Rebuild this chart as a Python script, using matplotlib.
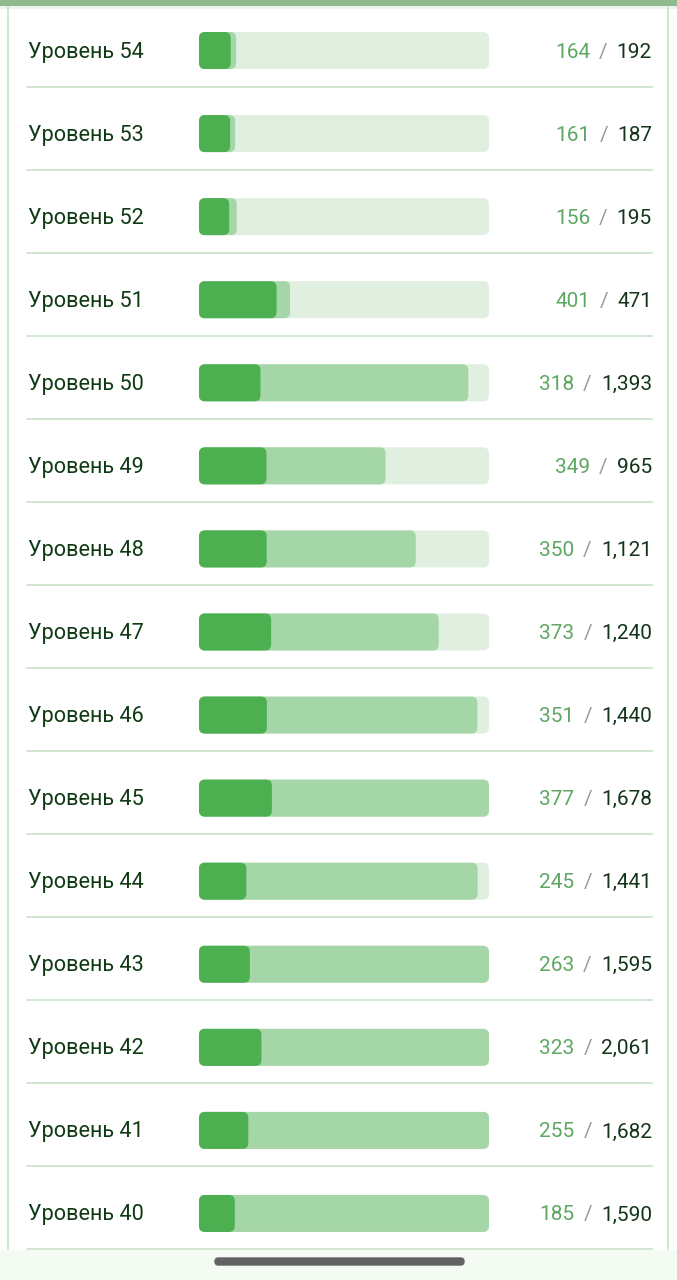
import matplotlib.pyplot as plt
import matplotlib.patches as mpatches
import matplotlib.transforms as mtransforms
from matplotlib.lines import Line2D

plt.rcParams['font.family'] = ['Roboto', 'DejaVu Sans']

# data
levels = [54, 53, 52, 51, 50, 49, 48, 47, 46, 45, 44, 43, 42, 41, 40]
done = [164, 161, 156, 401, 318, 349, 350, 373, 351, 377, 245, 263, 323, 255, 185]
total = [192, 187, 195, 471, 1393, 965, 1121, 1240, 1440, 1678, 1441, 1595, 2061, 1682, 1590]
scale_max = 1500

W, H = 677, 1280
fig = plt.figure(figsize=(W / 100, H / 100), dpi=100)
fig.patch.set_facecolor('white')

# frame decorations (pixel coords)
def px_rect(x, y, w, h, color):
    fig.patches.append(mpatches.Rectangle((x / W, 1 - (y + h) / H), w / W, h / H,
                                          transform=fig.transFigure, color=color, lw=0))

px_rect(0, 1250, W, 30, '#f4fbf2')
px_rect(0, 0, W, 6, '#8fbb8f')
px_rect(0, 6, W, 3, '#eef3ee')
px_rect(7, 6, 2, 1244, '#cfe6cf')
px_rect(667, 6, 2, 1244, '#cfe6cf')
fig.patches.append(mpatches.FancyBboxPatch((215 / W, 1 - 1265 / H), 249 / W, 7 / H,
                                           boxstyle='round,pad=0,rounding_size=0.005',
                                           mutation_aspect=W / H,
                                           transform=fig.transFigure, color='#626262'))

# bar axes
n = len(levels)
row_h = 83.07
top = 50.5 - row_h / 2
bar_l, bar_w = 199, 290
ax = fig.add_axes([bar_l / W, 1 - (top + n * row_h) / H, bar_w / W, n * row_h / H])
ax.set_xlim(0, scale_max)
ax.set_ylim(n - 0.5, -0.5)
ax.axis('off')

bar_h = 37 / row_h
ux = scale_max / bar_w          # x units per pixel
uy = 1 / row_h                  # y units per pixel
aspect = uy / ux
rs = 6 * ux


def rbar(x0, width, yc, color, z):
    p = mpatches.FancyBboxPatch((x0, yc - bar_h / 2), width, bar_h,
                                boxstyle='round,pad=0,rounding_size=%f' % rs,
                                mutation_aspect=aspect, color=color, lw=0, zorder=z)
    ax.add_patch(p)


trans = mtransforms.blended_transform_factory(fig.transFigure, ax.transData)
dy = 1.5 / row_h

for i, (lv, d, t) in enumerate(zip(levels, done, total)):
    rbar(0, scale_max, i, '#e0efe0', 1)
    rbar(0, min(t, scale_max), i, '#a5d6a7', 2)
    rbar(0, min(d, scale_max), i, '#4caf50', 3)

    ax.text(28 / W, i + dy, 'Уровень %d' % lv, transform=trans, ha='left', va='center',
            fontsize=15.6, color='#0f3a14', clip_on=False)
    tt = ax.text(652 / W, i + dy, '{:,}'.format(t), transform=trans, ha='right', va='center',
                 fontsize=15, color='#13351a', clip_on=False)
    sl = ax.annotate('/', xy=(0, 0.5), xycoords=tt, xytext=(-6.5, 0),
                     textcoords='offset points', ha='right', va='center',
                     fontsize=15, color='#9a9a9a')
    ax.annotate('{:,}'.format(d), xy=(0, 0.5), xycoords=sl, xytext=(-6.5, 0),
                textcoords='offset points', ha='right', va='center',
                fontsize=15, color='#5ea762')

    ax.add_line(Line2D([27 / W, 652 / W], [i + 36 / row_h] * 2, transform=trans,
                       color='#c9e2c9', lw=1.2, clip_on=False))

fig.savefig('out.png', dpi=100)
